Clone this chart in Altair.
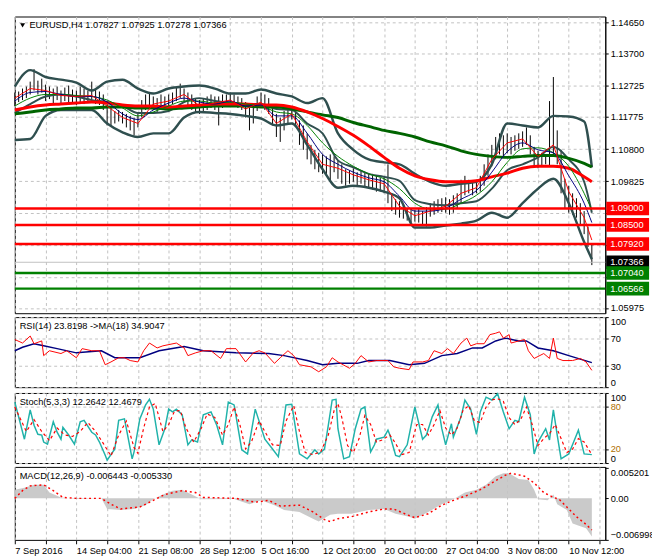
import json
import altair as alt
import pandas as pd

# ---------------- data ----------------
title_main = "EURUSD,H4  1.07827 1.07925 1.07278 1.07366"
rsi_label = "RSI(14) 23.8198  ->MA(18) 34.9047"
stoch_label = "Stoch(5,3,3) 12.2642 12.4679"
macd_label = "MACD(12,26,9) -0.006443 -0.005330"

x_labels = ["7 Sep 2016", "14 Sep 04:00", "21 Sep 08:00", "28 Sep 12:00", "5 Oct 16:00",
            "12 Oct 20:00", "20 Oct 00:00", "27 Oct 04:00", "3 Nov 08:00", "10 Nov 12:00"]

price_ticks = [1.14650, 1.13700, 1.12725, 1.11775, 1.10800, 1.09825, 1.08875, 1.07900, 1.06925, 1.05975]
covered_ticks = [1.08875, 1.07900, 1.06925]

level_prices = [1.09000, 1.08500, 1.07920, 1.07366, 1.07040, 1.06566]
level_kinds = ["resistance", "resistance", "resistance", "current", "support", "support"]

# price bars (every second H4 bar)
bar_idx = list(range(0, 301, 2))
bar_high = [1.1252, 1.1255, 1.1264, 1.1270, 1.1285, 1.1323, 1.1288, 1.1294, 1.1276, 1.1270,
            1.1264, 1.1270, 1.1258, 1.1267, 1.1273, 1.1261, 1.1258, 1.1270, 1.1264, 1.1258,
            1.1285, 1.1261, 1.1255, 1.1246, 1.1226, 1.1205, 1.1196, 1.1199, 1.1193, 1.1187,
            1.1181, 1.1176, 1.1187, 1.1229, 1.1246, 1.1252, 1.1240, 1.1235, 1.1246, 1.1240,
            1.1246, 1.1252, 1.1270, 1.1279, 1.1264, 1.1252, 1.1246, 1.1235, 1.1229, 1.1235,
            1.1240, 1.1246, 1.1240, 1.1240, 1.1246, 1.1246, 1.1252, 1.1246, 1.1240, 1.1235,
            1.1223, 1.1205, 1.1211, 1.1240, 1.1252, 1.1246, 1.1235, 1.1211, 1.1187, 1.1176,
            1.1196, 1.1205, 1.1211, 1.1199, 1.1167, 1.1152, 1.1128, 1.1093, 1.1078, 1.1069,
            1.1064, 1.1058, 1.1064, 1.1058, 1.1046, 1.1034, 1.1019, 1.1016, 1.1022, 1.1010,
            1.1016, 1.1010, 1.1005, 1.1005, 1.0999, 1.0993, 1.0999, 1.1034, 1.0946, 1.0928,
            1.0922, 1.0910, 1.0901, 1.0898, 1.0895, 1.0898, 1.0892, 1.0904, 1.0916, 1.0922,
            1.0928, 1.0931, 1.0934, 1.0928, 1.0940, 1.0946, 1.0987, 1.0999, 1.0987, 1.0981,
            1.0987, 1.0999, 1.1034, 1.1064, 1.1093, 1.1117, 1.1128, 1.1122, 1.1128, 1.1117,
            1.1122, 1.1128, 1.1134, 1.1146, 1.1122, 1.1087, 1.1075, 1.1069, 1.1064, 1.1226,
            1.1299, 1.1137, 1.1078, 1.0990, 1.0969, 1.0946, 1.0931, 1.0916, 1.0892, 1.0845,
            1.0793]
bar_low = [1.1211, 1.1223, 1.1229, 1.1235, 1.1246, 1.1258, 1.1246, 1.1252, 1.1226, 1.1232,
           1.1220, 1.1229, 1.1217, 1.1226, 1.1223, 1.1220, 1.1214, 1.1223, 1.1217, 1.1220,
           1.1226, 1.1217, 1.1214, 1.1199, 1.1152, 1.1152, 1.1158, 1.1164, 1.1158, 1.1146,
           1.1137, 1.1122, 1.1146, 1.1176, 1.1199, 1.1211, 1.1199, 1.1193, 1.1205, 1.1202,
           1.1211, 1.1217, 1.1226, 1.1235, 1.1223, 1.1205, 1.1199, 1.1193, 1.1187, 1.1193,
           1.1199, 1.1205, 1.1199, 1.1152, 1.1205, 1.1211, 1.1214, 1.1211, 1.1205, 1.1199,
           1.1176, 1.1137, 1.1158, 1.1196, 1.1205, 1.1199, 1.1187, 1.1152, 1.1117, 1.1102,
           1.1137, 1.1158, 1.1170, 1.1152, 1.1093, 1.1078, 1.1049, 1.1034, 1.1019, 1.1010,
           1.1005, 1.0999, 1.0984, 1.1010, 1.0990, 1.0975, 1.0969, 1.0975, 1.0981, 1.0969,
           1.0975, 1.0966, 1.0963, 1.0957, 1.0951, 1.0951, 1.0946, 1.0916, 1.0892, 1.0881,
           1.0872, 1.0869, 1.0863, 1.0857, 1.0860, 1.0857, 1.0851, 1.0845, 1.0875, 1.0881,
           1.0887, 1.0889, 1.0887, 1.0881, 1.0887, 1.0898, 1.0916, 1.0940, 1.0946, 1.0940,
           1.0946, 1.0951, 1.0969, 1.0999, 1.1028, 1.1049, 1.1064, 1.1058, 1.1069, 1.1064,
           1.1075, 1.1081, 1.1087, 1.1093, 1.1064, 1.1028, 1.1022, 1.1028, 1.1034, 1.1028,
           1.1064, 1.1034, 1.0946, 1.0901, 1.0887, 1.0881, 1.0872, 1.0851, 1.0822, 1.0783,
           1.0728]

# indicator lines on the price chart (every eighth bar)
line_idx = list(range(0, 297, 8)) + [300]
ma_red_thick = [1.1199, 1.1208, 1.1214, 1.1217, 1.1220, 1.1223, 1.1220, 1.1214, 1.1211, 1.1211,
                1.1208, 1.1211, 1.1214, 1.1217, 1.1217, 1.1217, 1.1214, 1.1214, 1.1208, 1.1193,
                1.1173, 1.1149, 1.1122, 1.1090, 1.1055, 1.1022, 1.0999, 1.0987, 1.0981, 1.0981,
                1.0984, 1.0996, 1.1007, 1.1022, 1.1028, 1.1028, 1.1022, 1.0996, 1.0981]
ma_green_thick = [1.1187, 1.1193, 1.1199, 1.1202, 1.1205, 1.1205, 1.1208, 1.1208, 1.1205, 1.1205,
                  1.1202, 1.1205, 1.1208, 1.1211, 1.1211, 1.1211, 1.1208, 1.1208, 1.1202, 1.1193,
                  1.1184, 1.1176, 1.1161, 1.1149, 1.1137, 1.1128, 1.1117, 1.1102, 1.1090, 1.1075,
                  1.1064, 1.1058, 1.1055, 1.1058, 1.1061, 1.1061, 1.1052, 1.1037, 1.1026]
ma_fast = [1.1235, 1.1264, 1.1258, 1.1243, 1.1240, 1.1243, 1.1211, 1.1176, 1.1158, 1.1217,
           1.1226, 1.1246, 1.1211, 1.1220, 1.1229, 1.1202, 1.1223, 1.1158, 1.1187, 1.1102,
           1.1034, 1.1022, 1.1002, 1.0987, 1.0975, 1.0907, 1.0878, 1.0892, 1.0907, 1.0946,
           1.0963, 1.1049, 1.1099, 1.1111, 1.1058, 1.1093, 1.0951, 1.0872, 1.0804]
ma_mid = [1.1226, 1.1252, 1.1255, 1.1246, 1.1240, 1.1240, 1.1223, 1.1187, 1.1170, 1.1199,
          1.1220, 1.1235, 1.1223, 1.1217, 1.1226, 1.1211, 1.1214, 1.1181, 1.1181, 1.1128,
          1.1064, 1.1034, 1.1010, 1.0993, 1.0981, 1.0937, 1.0892, 1.0892, 1.0901, 1.0928,
          1.0954, 1.1010, 1.1072, 1.1099, 1.1078, 1.1069, 1.0999, 1.0916, 1.0857]
ma_slow = [1.1211, 1.1235, 1.1246, 1.1246, 1.1243, 1.1240, 1.1229, 1.1205, 1.1181, 1.1193,
           1.1211, 1.1226, 1.1226, 1.1220, 1.1223, 1.1217, 1.1211, 1.1193, 1.1187, 1.1152,
           1.1099, 1.1058, 1.1028, 1.1005, 1.0990, 1.0960, 1.0916, 1.0898, 1.0898, 1.0916,
           1.0940, 1.0981, 1.1040, 1.1081, 1.1084, 1.1069, 1.1028, 1.0946, 1.0895]
bb_upper = [1.1270, 1.1320, 1.1299, 1.1291, 1.1282, 1.1258, 1.1285, 1.1291, 1.1264, 1.1249,
            1.1264, 1.1270, 1.1273, 1.1264, 1.1249, 1.1249, 1.1261, 1.1249, 1.1240, 1.1220,
            1.1235, 1.1128, 1.1078, 1.1049, 1.1040, 1.1034, 1.1005, 1.0981, 1.0969, 1.0975,
            1.0981, 1.1034, 1.1158, 1.1152, 1.1146, 1.1181, 1.1179, 1.1164, 1.1025]
bb_middle = [1.1190, 1.1217, 1.1240, 1.1246, 1.1240, 1.1229, 1.1223, 1.1211, 1.1190, 1.1190,
             1.1196, 1.1223, 1.1235, 1.1226, 1.1220, 1.1217, 1.1217, 1.1202, 1.1199, 1.1158,
             1.1128, 1.1046, 1.1025, 1.1005, 1.0996, 1.0984, 1.0925, 1.0913, 1.0910, 1.0916,
             1.0922, 1.0960, 1.1016, 1.1034, 1.1055, 1.1087, 1.1049, 1.0981, 1.0887]
bb_lower = [1.1108, 1.1111, 1.1181, 1.1199, 1.1199, 1.1199, 1.1158, 1.1131, 1.1117, 1.1128,
            1.1128, 1.1176, 1.1193, 1.1190, 1.1187, 1.1181, 1.1173, 1.1152, 1.1158, 1.1093,
            1.1019, 1.0963, 1.0969, 1.0963, 1.0951, 1.0931, 1.0842, 1.0842, 1.0848, 1.0854,
            1.0863, 1.0887, 1.0872, 1.0916, 1.0960, 1.0990, 1.0916, 1.0798, 1.0746]

# RSI(14) and its MA(18): (bar index, value)
rsi_points = [(0, 68), (4, 63), (8, 73), (10, 62), (14, 66), (15, 45), (18, 52), (24, 48), (27, 52),
              (32, 42), (35, 55), (40, 52), (44, 52), (47, 32), (50, 36), (54, 42), (57, 42), (60, 38),
              (64, 36), (67, 52), (70, 63), (74, 56), (77, 59), (84, 63), (88, 56), (90, 45), (94, 49),
              (98, 52), (102, 52), (107, 41), (110, 55), (115, 55), (120, 36), (124, 49), (127, 52),
              (130, 49), (135, 34), (138, 42), (142, 52), (145, 45), (148, 32), (154, 29), (158, 22),
              (162, 29), (165, 42), (168, 36), (174, 27), (177, 34), (180, 45), (184, 36), (188, 38),
              (194, 38), (197, 29), (200, 27), (205, 25), (207, 36), (212, 36), (215, 38), (218, 52),
              (222, 48), (225, 55), (228, 48), (232, 63), (235, 70), (237, 59), (240, 62), (244, 62),
              (247, 75), (250, 77), (252, 79), (254, 70), (257, 75), (258, 63), (262, 66), (265, 68),
              (267, 52), (270, 41), (275, 48), (278, 41), (280, 70), (282, 41), (285, 38), (290, 38),
              (294, 41), (297, 36), (300, 24)]
rsi_ma_points = [(0, 52), (4, 57), (10, 62), (15, 59), (22, 55), (32, 49), (45, 52), (52, 42), (65, 42),
                 (75, 52), (88, 58), (98, 52), (115, 49), (132, 48), (140, 45), (152, 38), (160, 32),
                 (168, 34), (178, 34), (184, 38), (195, 38), (205, 32), (213, 34), (222, 45), (230, 48),
                 (238, 56), (243, 56), (250, 66), (255, 70), (262, 66), (266, 66), (272, 56), (280, 52),
                 (288, 45), (300, 35)]

# Stochastic(5,3,3)
stoch_main_points = [(0, 87), (5, 34), (8, 76), (10, 54), (12, 41), (14, 40), (15, 30), (17, 27), (20, 59),
                     (22, 44), (24, 34), (25, 51), (28, 40), (31, 27), (34, 59), (36, 61), (40, 44), (42, 40),
                     (44, 30), (47, 11), (48, 4), (52, 20), (54, 61), (57, 63), (58, 49), (61, 6), (62, 16),
                     (65, 63), (68, 83), (70, 91), (72, 77), (75, 26), (78, 49), (80, 77), (82, 73), (84, 77),
                     (87, 69), (90, 26), (92, 33), (95, 30), (98, 69), (102, 73), (105, 54), (108, 26),
                     (111, 87), (114, 83), (118, 19), (121, 13), (125, 77), (130, 34), (134, 20), (137, 9),
                     (141, 83), (144, 84), (148, 13), (152, 6), (156, 19), (158, 13), (161, 20), (163, 54),
                     (165, 90), (167, 91), (168, 49), (171, 6), (174, 9), (177, 49), (180, 77), (182, 80),
                     (185, 16), (187, 26), (188, 34), (192, 37), (194, 47), (195, 40), (198, 11), (200, 9),
                     (204, 26), (208, 80), (212, 34), (214, 40), (217, 66), (220, 83), (222, 49), (224, 26),
                     (227, 56), (228, 37), (232, 66), (234, 90), (237, 77), (240, 41), (242, 73), (245, 94),
                     (248, 90), (251, 99), (254, 73), (257, 49), (260, 61), (262, 59), (265, 94), (268, 69),
                     (270, 13), (272, 30), (276, 49), (278, 33), (280, 76), (282, 40), (284, 6), (288, 13),
                     (292, 40), (293, 47), (296, 13), (300, 12)]
stoch_signal_points = [(0, 80), (6, 45), (10, 62), (14, 45), (18, 32), (22, 50), (26, 40), (30, 38), (34, 45),
                       (38, 58), (42, 45), (46, 28), (50, 10), (54, 40), (58, 60), (62, 22), (64, 14), (67, 50),
                       (70, 80), (73, 85), (77, 45), (80, 55), (83, 74), (86, 75), (89, 50), (93, 30), (97, 50),
                       (100, 70), (104, 65), (108, 40), (111, 55), (114, 80), (117, 55), (120, 20), (123, 30),
                       (127, 60), (130, 45), (134, 26), (138, 25), (141, 60), (145, 82), (148, 45), (151, 15),
                       (155, 12), (159, 16), (163, 40), (166, 75), (168, 85), (170, 65), (173, 25), (176, 15),
                       (179, 35), (182, 68), (185, 55), (188, 30), (191, 33), (195, 40), (198, 28), (201, 12),
                       (205, 15), (209, 55), (212, 55), (215, 40), (218, 55), (221, 75), (224, 50), (227, 40),
                       (230, 50), (233, 75), (236, 82), (239, 60), (242, 58), (245, 80), (248, 90), (251, 92),
                       (254, 88), (257, 65), (260, 55), (263, 62), (266, 80), (269, 55), (272, 25), (275, 35),
                       (278, 42), (281, 55), (284, 35), (287, 15), (290, 20), (293, 35), (296, 30), (300, 12)]

# MACD(12,26,9)
macd_hist_points = [(0, 0.00146), (5, 0.00179), (10, 0.00228), (15, 0.00228), (18, 0.00098), (24, 0.00016),
                    (32, -0.0001), (45, 0.0), (48, -0.00179), (55, -0.00195), (62, -0.00179), (68, -0.00114),
                    (72, -0.00016), (77, 0.00065), (82, 0.00130), (87, 0.00146), (92, 0.00065), (97, -0.00016),
                    (114, -0.0001), (122, -0.00098), (128, -0.00033), (135, -0.00114), (140, -0.00195),
                    (148, -0.00228), (155, -0.00342), (158, -0.00390), (164, -0.00277), (168, -0.00260),
                    (175, -0.00260), (184, -0.00195), (192, -0.00179), (198, -0.00260), (205, -0.00309),
                    (208, -0.00342), (215, -0.00228), (222, -0.00098), (228, -0.00016), (234, 0.00098),
                    (240, 0.00146), (245, 0.00228), (250, 0.00374), (254, 0.00423), (257, 0.00423),
                    (262, 0.00325), (267, 0.00309), (270, 0.00146), (272, -0.00016), (277, -0.00033),
                    (280, 0.00065), (282, -0.00098), (287, -0.00195), (290, -0.00423), (294, -0.00472),
                    (297, -0.00504), (300, -0.00644)]
macd_signal_points = [(0, 0.0), (4, 0.0013), (8, 0.00211), (15, 0.00228), (20, 0.0013), (25, 0.00016), (32, 0.0),
                      (45, 0.0), (50, -0.00098), (55, -0.00179), (65, -0.00146), (72, -0.00033), (78, 0.00065),
                      (87, 0.0013), (94, 0.00098), (98, 0.00016), (115, 0.0), (125, -0.00065), (132, -0.00033),
                      (138, -0.0013), (148, -0.00114), (155, -0.00228), (161, -0.00358), (164, -0.0039),
                      (168, -0.00342), (175, -0.00309), (184, -0.00228), (192, -0.00179), (197, -0.00179),
                      (204, -0.00277), (208, -0.00325), (215, -0.0026), (222, -0.00114), (228, -0.00033),
                      (235, 0.00049), (242, 0.00146), (248, 0.0026), (255, 0.0039), (258, 0.00423),
                      (265, 0.00374), (270, 0.0026), (275, 0.00098), (280, 0.00016), (283, -0.00016),
                      (287, -0.00146), (292, -0.00309), (297, -0.00439), (300, -0.00533)]

# ---------------- frames ----------------
bars_df = pd.DataFrame({"idx": bar_idx, "high": bar_high, "low": bar_low})
lines_df = pd.DataFrame({"idx": line_idx, "ma_red_thick": ma_red_thick, "ma_green_thick": ma_green_thick,
                         "ma_fast": ma_fast, "ma_mid": ma_mid, "ma_slow": ma_slow,
                         "bb_upper": bb_upper, "bb_middle": bb_middle, "bb_lower": bb_lower})
levels_df = pd.DataFrame({"price": level_prices, "kind": level_kinds})
rsi_df = pd.DataFrame(rsi_points, columns=["idx", "v"])
rsi_ma_df = pd.DataFrame(rsi_ma_points, columns=["idx", "v"])
st_main_df = pd.DataFrame(stoch_main_points, columns=["idx", "v"])
st_sig_df = pd.DataFrame(stoch_signal_points, columns=["idx", "v"])
macd_hist_df = pd.DataFrame(macd_hist_points, columns=["idx", "v"])
macd_sig_df = pd.DataFrame(macd_signal_points, columns=["idx", "v"])

# ---------------- styling ----------------
W = 607
FONT = "Liberation Sans"
FS = 9.5
GRID = "#c0c0c0"
X_DOMAIN = [0, 307]
x_grid_vals = list(range(0, 305, 16))
label_expr = ("datum.value % 32 == 0 ? " + json.dumps(x_labels) + "[datum.value / 32] : ''")


def x_enc(show=False):
    if show:
        ax = alt.Axis(values=x_grid_vals, grid=True, gridDash=[3, 3], gridColor=GRID,
                      labelExpr=label_expr, labelAlign="left", labelOverlap=False,
                      labelFont=FONT, labelFontSize=FS, labelColor="black", labelPadding=2,
                      tickSize=4, tickColor="black", domain=False, title=None)
    else:
        ax = alt.Axis(values=x_grid_vals, grid=True, gridDash=[3, 3], gridColor=GRID,
                      labels=False, ticks=False, domain=False, title=None)
    return alt.X("idx:Q", scale=alt.Scale(domain=X_DOMAIN, nice=False, zero=False), axis=ax)


def right_axis(values, **kw):
    base = dict(orient="right", values=values, tickSize=3, tickColor="black", domainColor="black",
                labelColor="black", labelFont=FONT, labelFontSize=FS, labelPadding=2,
                labelOverlap=False, title=None)
    base.update(kw)
    return alt.Axis(**base)


main_scale = alt.Scale(domain=[1.05819, 1.14827], nice=False, zero=False)
main_axis = right_axis(price_ticks, grid=True, gridDash=[3, 3], gridColor=GRID,
                       labelExpr="indexof(" + json.dumps(covered_ticks) + ", datum.value) >= 0 ? '' : "
                                 "format(datum.value, '.5f')")


def y_main(field):
    return alt.Y(f"{field}:Q", scale=main_scale, axis=main_axis)


# ---------------- main price panel ----------------
bars = alt.Chart(bars_df).mark_rule(color="black", strokeWidth=1).encode(
    x=x_enc(), y=y_main("high"), y2=alt.Y2("low"))


def line(field, color, width, smooth=True):
    kw = dict(color=color, strokeWidth=width)
    if smooth:
        kw["interpolate"] = "monotone"
    return alt.Chart(lines_df).mark_line(**kw).encode(x=x_enc(), y=y_main(field))


main_layers = [
    bars,
    line("bb_upper", "#2f4f4f", 2.5),
    line("bb_middle", "#2f4f4f", 2),
    line("bb_lower", "#2f4f4f", 2.5),
    line("ma_green_thick", "#006400", 3),
    line("ma_red_thick", "#ff0000", 3),
    line("ma_slow", "#008000", 1),
    line("ma_mid", "#000080", 1),
    line("ma_fast", "#ff0000", 1, smooth=False),
]

lvl_base = alt.Chart(levels_df)
main_layers.append(lvl_base.transform_filter("datum.kind != 'current'").mark_rule(strokeWidth=2.5).encode(
    y=y_main("price"),
    color=alt.Color("kind:N", scale=alt.Scale(domain=["resistance", "support"], range=["#ff0000", "#008000"]),
                    legend=None)))
main_layers.append(lvl_base.transform_filter("datum.kind == 'current'").mark_rule(
    strokeWidth=1, color="#c0c0c0").encode(y=y_main("price")))
for kind, col in [("resistance", "#ff0000"), ("current", "#000000"), ("support", "#008000")]:
    main_layers.append(lvl_base.transform_filter(f"datum.kind == '{kind}'").mark_rect(
        color=col, yOffset=-7, y2Offset=7).encode(
        x=alt.value(W + 1), x2=alt.value(W + 45), y=y_main("price"), y2=alt.Y2("price")))
main_layers.append(lvl_base.mark_text(align="left", color="white", font=FONT, fontSize=FS).encode(
    x=alt.value(W + 5), y=y_main("price"), text=alt.Text("price:Q", format=".5f")))

title_df = pd.DataFrame({"t": [title_main]})
main_layers.append(alt.Chart(title_df).mark_point(shape="triangle-down", filled=True, size=26,
                                                  color="black", opacity=1).encode(
    x=alt.value(8), y=alt.value(9)))
main_layers.append(alt.Chart(title_df).mark_text(align="left", font=FONT, fontSize=FS, color="black").encode(
    x=alt.value(15), y=alt.value(9), text="t:N"))

main = alt.layer(*main_layers).properties(width=W, height=305)


# ---------------- RSI ----------------
def panel_label(text):
    return alt.Chart(pd.DataFrame({"t": [text]})).mark_text(
        align="left", font=FONT, fontSize=FS, color="black").encode(
        x=alt.value(5), y=alt.value(9), text="t:N")


rsi_axis = right_axis([0, 30, 70, 100], grid=True, gridDash=[3, 3], gridColor=GRID, labelFlush=True)
rsi_y = lambda: alt.Y("v:Q", scale=alt.Scale(domain=[0, 100], nice=False), axis=rsi_axis)
rsi = alt.layer(
    alt.Chart(rsi_ma_df).mark_line(color="#000080", strokeWidth=1.5).encode(x=x_enc(), y=rsi_y()),
    alt.Chart(rsi_df).mark_line(color="#ff0000", strokeWidth=1).encode(x=x_enc(), y=rsi_y()),
    panel_label(rsi_label),
).properties(width=W, height=72)

# ---------------- Stochastic ----------------
st_axis = right_axis([0, 20, 80, 100], grid=True, gridDash=[3, 3], gridColor=GRID, labelFlush=True,
                     labelColor={"expr": "datum.value == 20 || datum.value == 80 ? '#b07000' : 'black'"})
st_y = lambda: alt.Y("v:Q", scale=alt.Scale(domain=[0, 100], nice=False), axis=st_axis)
stoch = alt.layer(
    alt.Chart(st_main_df).mark_line(color="#20b2aa", strokeWidth=1.5).encode(x=x_enc(), y=st_y()),
    alt.Chart(st_sig_df).mark_line(color="#ff0000", strokeWidth=1.2, strokeDash=[3, 3]).encode(x=x_enc(), y=st_y()),
    panel_label(stoch_label),
).properties(width=W, height=72)

# ---------------- MACD ----------------
macd_axis = right_axis([-0.006998, 0, 0.005201], grid=False, labelFlush=True,
                       labelExpr="datum.value == 0 ? '0.00' : format(datum.value, '.6f')")
macd_y = lambda: alt.Y("v:Q", scale=alt.Scale(domain=[-0.007, 0.0053], nice=False, zero=False), axis=macd_axis)
macd = alt.layer(
    alt.Chart(macd_hist_df).mark_area(color="#c4c4c4", opacity=0.9).encode(
        x=x_enc(True), y=macd_y(), y2=alt.datum(0)),
    alt.Chart(macd_sig_df).mark_line(color="#ff0000", strokeWidth=1.5, strokeDash=[2, 3]).encode(
        x=x_enc(True), y=macd_y()),
    panel_label(macd_label),
).properties(width=W, height=75)

chart = alt.vconcat(main, rsi, stoch, macd, spacing=2).properties(
    padding={"left": 0, "top": 0, "right": -3, "bottom": 0},
    background="white",
).configure_view(stroke="black", strokeWidth=1).configure_axis(labelFont=FONT)

chart.save("out.html", embed_options={"renderer": "svg", "actions": False})
